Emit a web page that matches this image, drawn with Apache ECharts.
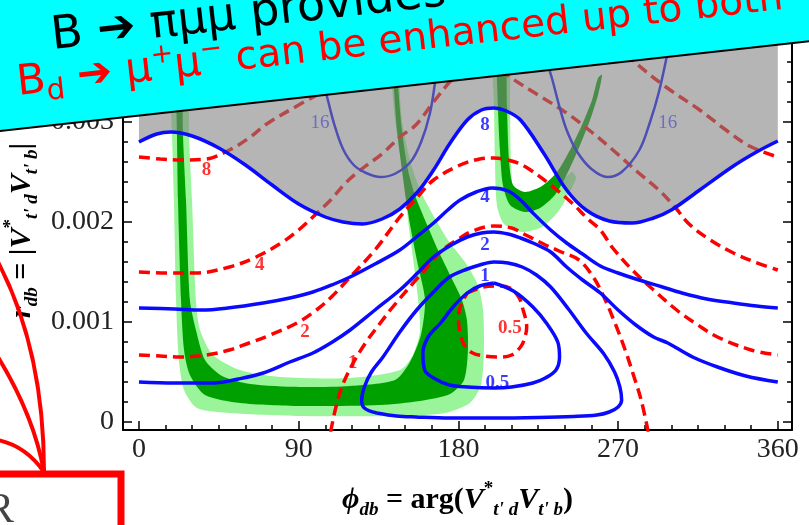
<!DOCTYPE html>
<html>
<head>
<meta charset="utf-8">
<script src="https://cdn.jsdelivr.net/npm/echarts@6/dist/echarts.min.js"></script>
<style>
  html, body { margin: 0; padding: 0; background: #fff; }
  #chart { width: 809px; height: 525px; }
</style>
</head>
<body>
<div id="chart"></div>
<script>
  /** Axis values (phi in degrees, r_db in units of 1e-3) */
  var xTickValues = [0, 90, 180, 270, 360];
  var yTickValues = [0, 1, 2, 3];
  var yTickLabels = ['0', '0.001', '0.002', '0.003'];

  /** Blue solid contours */
  var blue8 = [[0,2.80],[10,2.88],[18,2.90],[30,2.86],[45,2.74],[60,2.57],[75,2.37],[90,2.18],[105,2.05],[115,2.00],[126,1.98],[137,2.03],[147,2.13],[157,2.30],[166,2.52],[175,2.78],[185,3.02],[193,3.12],[200,3.14],[207,3.11],[215,3.02],[228,2.69],[241,2.32],[252,2.12],[265,2.01],[278,1.99],[290,2.04],[300,2.12],[316,2.32],[335,2.56],[348,2.70],[360,2.81]];
  var blue4 = [[0,1.14],[20,1.13],[35,1.12],[50,1.14],[70,1.19],[85,1.24],[98,1.30],[110,1.38],[119,1.45],[133,1.58],[147,1.72],[157,1.86],[166,1.99],[174,2.12],[181,2.22],[190,2.30],[199,2.34],[208,2.31],[215,2.22],[222,2.09],[232,1.92],[241,1.79],[250,1.68],[260,1.56],[270,1.49],[280,1.43],[295,1.35],[306,1.29],[320,1.23],[335,1.19],[348,1.16],[360,1.14]];
  var blue2 = [[0,0.40],[20,0.39],[42,0.39],[56,0.43],[70,0.49],[85,0.60],[98,0.69],[109,0.80],[119,0.92],[133,1.12],[147,1.32],[157,1.49],[166,1.65],[176,1.77],[185,1.85],[193,1.89],[200,1.90],[208,1.88],[215,1.84],[222,1.79],[232,1.70],[241,1.55],[250,1.42],[260,1.29],[270,1.12],[280,0.97],[290,0.85],[298,0.79],[312,0.65],[326,0.55],[342,0.46],[360,0.40]];
  var blue1 = [[134,0.09],[145,0.06],[156,0.05],[175,0.04],[200,0.04],[225,0.045],[245,0.055],[258,0.07],[265,0.10],[270,0.15],[272,0.22],[271,0.35],[268,0.50],[262,0.68],[252,0.89],[242,1.13],[232,1.35],[224,1.47],[216,1.55],[208,1.59],[200,1.60],[192,1.57],[185,1.53],[175,1.45],[166,1.30],[156.5,1.12],[147,0.90],[137.5,0.65],[131,0.50],[127,0.35],[125.5,0.22],[127,0.14],[134,0.09]];
  var blue05 = [[200,1.39],[211,1.31],[222,1.15],[230,0.98],[236,0.80],[237,0.65],[235,0.52],[229,0.44],[222,0.39],[210,0.35],[200,0.34],[185,0.35],[175,0.37],[166,0.44],[161,0.52],[160,0.69],[163,0.85],[170,0.99],[177,1.15],[185,1.29],[192,1.36],[200,1.39]];
  var blue16a = [[96,3.9],[102,3.5],[106,3.25],[110,2.98],[115,2.73],[121,2.57],[128,2.49],[136,2.45],[144,2.48],[153,2.60],[159,2.80],[164,3.09],[167,3.42],[170,3.9]];
  var blue16b = [[226,3.9],[230,3.6],[233,3.42],[237,3.15],[241,2.92],[247,2.70],[255,2.53],[264,2.45],[272,2.50],[282,2.72],[288,3.0],[293,3.3],[298,3.7],[301,3.95]];

  /** Red dashed contours */
  var red8 = [[0,2.65],[12,2.63],[23,2.62],[38,2.63],[51,2.72],[62,2.84],[72,2.98],[90,3.17],[109,3.36],[125,3.6],[140,3.85],[160,4.2],[200,4.5],[250,4.2],[265,3.85],[278,3.62],[297,3.35],[316,3.12],[330,2.93],[344,2.76],[360,2.65]];
  var red4 = [[0,1.50],[15,1.49],[32,1.49],[51,1.55],[66,1.65],[81,1.80],[90,1.92],[98,2.05],[108,2.22],[117,2.40],[127,2.55],[137,2.68],[147,2.85],[156,2.97],[166,3.20],[178,3.45],[190,3.58],[200,3.58],[209,3.45],[225,3.27],[241,3.09],[255,2.90],[269,2.69],[281,2.50],[293,2.32],[302,2.15],[310,1.98],[322,1.82],[335,1.69],[347,1.60],[360,1.52]];
  var red2 = [[0,0.67],[12,0.66],[23,0.65],[38,0.67],[51,0.72],[62,0.79],[74,0.87],[89,0.99],[100,1.12],[109,1.26],[119,1.45],[133,1.72],[147,2.05],[157,2.25],[166,2.42],[181,2.57],[192,2.63],[200,2.64],[210,2.61],[218,2.55],[232,2.37],[244,2.19],[253,2.03],[260,1.92],[267,1.74],[278,1.52],[290,1.32],[303,1.12],[315,0.97],[326,0.85],[345,0.72],[360,0.67]];
  var red1 = [[108,-0.1],[111,0.15],[115,0.38],[121,0.6],[128,0.8],[136,0.99],[143,1.15],[156,1.42],[164,1.58],[171,1.72],[180,1.83],[188,1.91],[200,1.96],[210,1.94],[218,1.87],[228,1.78],[238,1.70],[248,1.62],[256,1.45],[262,1.25],[268,1.0],[274,0.72],[279,0.45],[283,0.22],[287,-0.1]];
  var red05 = [[185,1.29],[194,1.35],[202,1.36],[209,1.34],[214,1.25],[216,1.15],[218.5,0.95],[217,0.82],[215,0.75],[210,0.67],[203,0.65],[195,0.66],[188,0.69],[183,0.78],[181,0.89],[180,1.02],[181,1.15],[185,1.29]];

  /** Green allowed regions (outer = light, inner = dark) */
  var greenLightA = [[17.5,3.92],[18.6,2.89],[19.7,2.22],[20.9,1.22],[22.5,0.62],[25.4,0.32],[32.7,0.14],[51.3,0.09],[90.7,0.06],[147,0.06],[172.4,0.09],[186.5,0.19],[192.7,0.37],[194.4,0.72],[193.9,1.12],[191,1.37],[183.7,1.60],[174.1,1.82],[165.7,2.07],[158.4,2.32],[152.7,2.62],[148.2,3.02],[146,3.62],[144.8,3.92],[140.3,3.92],[141.4,3.62],[144.3,3.02],[147.6,2.62],[149.9,2.32],[151.6,2.02],[153.8,1.72],[156.7,1.32],[158.4,0.92],[154.4,0.67],[147.1,0.52],[118.9,0.44],[79.5,0.45],[56.9,0.52],[41.7,0.67],[34.4,0.92],[32.1,1.22],[29.9,2.22],[28.2,2.89],[27.6,3.92]];
  var greenDarkA = [[20.7,3.92],[21.4,2.89],[22,2.22],[23.7,1.22],[25.4,0.72],[28.7,0.47],[37.2,0.27],[56.9,0.19],[90.7,0.16],[135.8,0.17],[158.4,0.21],[175.3,0.28],[183.2,0.42],[185.4,0.72],[184.8,1.02],[182,1.22],[175.3,1.47],[168.5,1.72],[161.2,2.02],[155.5,2.27],[151.6,2.52],[148.2,2.92],[144.8,3.62],[143.1,3.92],[141.4,3.92],[142.6,3.62],[145.4,2.92],[148.2,2.52],[150.5,2.22],[153.3,1.92],[157.2,1.57],[161.2,1.22],[158.9,0.87],[152.7,0.60],[144.3,0.42],[118.9,0.36],[90.7,0.35],[62.6,0.38],[46.8,0.46],[37.2,0.62],[32.1,0.92],[28.7,1.22],[26.5,2.22],[24.8,2.89],[24.2,3.92]];
  var greenLightB = [[199.5,3.92],[200.1,3.15],[200.6,2.62],[201.7,2.17],[205.7,1.98],[215.8,1.90],[227.1,1.95],[236.1,2.10],[241.8,2.27],[246.3,2.44],[244,2.50],[236.1,2.37],[226,2.24],[215.8,2.20],[211.3,2.27],[209.6,2.62],[209.1,3.15],[208.5,3.92]];
  var greenDarkB = [[201.7,3.92],[202.3,3.15],[203.4,2.72],[205.1,2.37],[209.1,2.17],[217.5,2.10],[226,2.14],[234.4,2.27],[240.1,2.44],[247.4,2.72],[254.2,3.02],[258.7,3.27],[260.9,3.47],[258.7,3.44],[255.3,3.22],[249.6,2.97],[242.9,2.72],[235.6,2.50],[227.1,2.36],[217.5,2.30],[210.8,2.37],[208.5,2.62],[207.4,3.15],[206.3,3.92]];

  /** Contour labels [phi, r, text] */
  var blueLabels = [[195,2.97,'8'],[195,2.25,'4'],[195,1.77,'2'],[195,1.46,'1'],[202,0.39,'0.5']];
  var blue16Labels = [[102,2.99,'16'],[298,2.99,'16']];
  var redLabels = [[38,2.52,'8'],[68,1.57,'4'],[93.5,0.90,'2'],[120.5,0.59,'1'],[209,0.94,'0.5']];

  var BLUE = '#0a0aff', RED = '#ff0000';
  var SERIF = "'Liberation Serif', 'DejaVu Serif', serif";
  var COMIC = "'Comic Sans MS', 'DejaVu Sans', sans-serif";

  function contour(data, color, width, dashed, z) {
    return {
      type: 'line', data: data, smooth: 0.35, showSymbol: false, silent: true, z: z,
      lineStyle: { color: color, width: width, type: dashed ? [11, 6] : 'solid' }
    };
  }

  function region(poly, color, z) {
    return {
      type: 'custom', silent: true, z: z, data: [poly[0]],
      renderItem: function(params, api) {
        var pts = poly.map(function(p) { return api.coord(p); });
        return {
          type: 'polygon',
          shape: { points: pts, smooth: 0.25 },
          style: { fill: color }
        };
      }
    };
  }

  function labels(list, color, bold) {
    return {
      type: 'scatter', data: list, symbolSize: 1, silent: true, z: 8,
      itemStyle: { color: 'transparent' },
      label: {
        show: true, position: 'inside', color: color, fontFamily: SERIF,
        fontWeight: bold ? 'bold' : 'normal', fontSize: 19,
        formatter: function(p) { return p.value[2]; }
      }
    };
  }

  function xAxisDef(pos, values, len, line, lbl) {
    return {
      type: 'value', min: -9, max: 368, position: pos,
      axisLine: { show: line, onZero: false, lineStyle: { color: '#000', width: 2 } },
      axisTick: { show: true, inside: true, length: len, customValues: values, lineStyle: { color: '#000', width: 1.5 } },
      axisLabel: lbl ? { show: true, customValues: xTickValues, margin: 6, color: '#222', fontFamily: SERIF, fontSize: 28 } : { show: false },
      splitLine: { show: false }
    };
  }

  function yAxisDef(pos, values, len, line, lbl) {
    return {
      type: 'value', min: -0.08, max: 4.0, position: pos,
      axisLine: { show: line, onZero: false, lineStyle: { color: '#000', width: 2 } },
      axisTick: { show: true, inside: true, length: len, customValues: values, lineStyle: { color: '#000', width: 1.5 } },
      axisLabel: lbl ? {
        show: true, customValues: yTickValues, margin: 9, color: '#222', fontFamily: SERIF, fontSize: 28,
        formatter: function(v) { return yTickLabels[yTickValues.indexOf(v)]; }
      } : { show: false },
      splitLine: { show: false }
    };
  }

  var xMinor = [], yMinor = [];
  for (var a = 15; a < 368; a += 15) { if (a % 90) xMinor.push(a); }
  for (var b = 0.2; b < 4; b += 0.2) { b = Math.round(b * 10) / 10; if (b % 1) yMinor.push(b); }

  var titleRich = {
    i: { fontFamily: SERIF, fontStyle: 'italic', fontWeight: 'bold', fontSize: 30, color: '#000', lineHeight: 40 },
    n: { fontFamily: SERIF, fontWeight: 'bold', fontSize: 30, color: '#000', lineHeight: 40 },
    s: { fontFamily: SERIF, fontStyle: 'italic', fontWeight: 'bold', fontSize: 19, color: '#000', verticalAlign: 'bottom', lineHeight: 19 },
    p: { fontFamily: SERIF, fontWeight: 'bold', fontSize: 19, color: '#000', verticalAlign: 'top', lineHeight: 19 }
  };

  var chart = echarts.init(document.getElementById('chart'));

  var option = {
    animation: false,
    backgroundColor: '#fff',
    grid: { left: 123, right: 17, top: 22, bottom: 95 },
    xAxis: [
      Object.assign(xAxisDef('bottom', xTickValues, 9, true, true), {
        name: '{i|ϕ}{s|db}{n| = arg(}{i|V}{p|*}{s|t\' d}{i|V}{s|t\' b}{n|)}',
        nameLocation: 'middle', nameGap: 50,
        nameTextStyle: { rich: titleRich }
      }),
      xAxisDef('bottom', xMinor, 5, false, false),
      xAxisDef('top', xTickValues, 9, true, false),
      xAxisDef('top', xMinor, 5, false, false)
    ],
    yAxis: [
      yAxisDef('left', yTickValues, 9, true, true),
      yAxisDef('left', yMinor, 5, false, false),
      yAxisDef('right', yTickValues, 9, true, false),
      yAxisDef('right', yMinor, 5, false, false)
    ],
    series: [
      region(greenLightA, '#9af59a', 1),
      region(greenLightB, '#9af59a', 1),
      region(greenDarkA, '#00a000', 2),
      region(greenDarkB, '#00a000', 2),
      contour(red8, RED, 3.5, true, 3),
      contour(red4, RED, 3.5, true, 3),
      contour(red2, RED, 3.5, true, 3),
      contour(red1, RED, 3.5, true, 3),
      contour(red05, RED, 3.5, true, 3),
      contour(blue16a, BLUE, 2.5, false, 3),
      contour(blue16b, BLUE, 2.5, false, 3),
      Object.assign(contour(blue8, BLUE, 3.5, false, 5), {
        areaStyle: { origin: 'end', color: '#808080', opacity: 0.58 }
      }),
      contour(blue4, BLUE, 3.5, false, 5),
      contour(blue2, BLUE, 3.5, false, 5),
      contour(blue1, BLUE, 3.5, false, 5),
      contour(blue05, BLUE, 3.5, false, 5),
      labels(blueLabels, BLUE, true),
      labels(blue16Labels, '#5a5ac8', false),
      labels(redLabels, RED, true)
    ],
    graphic: [
      {
        type: 'text', x: 22, y: 318, rotation: Math.PI / 2, z: 50,
        style: {
          text: '{i|r}{s|db}{n| = |}{i|V}{p|*}{s|t\' d}{i|V}{s|t\' b}{n||}',
          align: 'left', verticalAlign: 'middle', fill: '#000',
          rich: titleRich
        }
      },
      {
        type: 'polygon', z: 100,
        shape: { points: [[-10, -10], [820, -10], [820, 40], [-10, 132]] },
        style: { fill: '#00ffff' }
      },
      {
        type: 'line', z: 101,
        shape: { x1: -10, y1: 132, x2: 820, y2: 40 },
        style: { stroke: '#000', lineWidth: 2 }
      },
      {
        type: 'text', x: 54, y: 60, rotation: 0.111, z: 102,
        style: {
          text: 'B ➔ πμμ provides',
          fontFamily: COMIC, fontSize: 46,
          fill: '#000', align: 'left', verticalAlign: 'bottom'
        }
      },
      {
        type: 'text', x: 20, y: 110, rotation: 0.111, z: 102,
        style: {
          text: '{b|B}{d|d}{b| ➔ μ}{u|+}{b|μ}{u|−}{a| can be enhanced up to both}',
          align: 'left', verticalAlign: 'bottom', fill: '#ff0000',
          rich: {
            b: { fontFamily: COMIC, fontSize: 42, lineHeight: 52 },
            a: { fontFamily: COMIC, fontSize: 39, lineHeight: 52 },
            d: { fontFamily: COMIC, fontSize: 29, lineHeight: 29, verticalAlign: 'bottom' },
            u: { fontFamily: COMIC, fontSize: 27, lineHeight: 27, verticalAlign: 'top' }
          }
        }
      },
      {
        type: 'bezierCurve', z: 60,
        shape: { x1: -2, y1: 262, x2: 44, y2: 472, cpx1: 44, cpy1: 350 },
        style: { stroke: '#ff0000', lineWidth: 4, fill: null }
      },
      {
        type: 'bezierCurve', z: 60,
        shape: { x1: -2, y1: 357, x2: 44, y2: 472, cpx1: 34, cpy1: 416 },
        style: { stroke: '#ff0000', lineWidth: 4, fill: null }
      },
      {
        type: 'bezierCurve', z: 60,
        shape: { x1: -2, y1: 440, x2: 44, y2: 472, cpx1: 26, cpy1: 446 },
        style: { stroke: '#ff0000', lineWidth: 4, fill: null }
      },
      {
        type: 'polyline', z: 61,
        shape: { points: [[-10, 474], [121, 474], [121, 540]] },
        style: { stroke: '#ff0000', lineWidth: 7, fill: null }
      },
      {
        type: 'text', x: -14, y: 490, z: 61,
        style: { text: 'R', fontFamily: SERIF, fontSize: 42, fill: '#444' }
      }
    ]
  };

  chart.setOption(option);
</script>
</body>
</html>
